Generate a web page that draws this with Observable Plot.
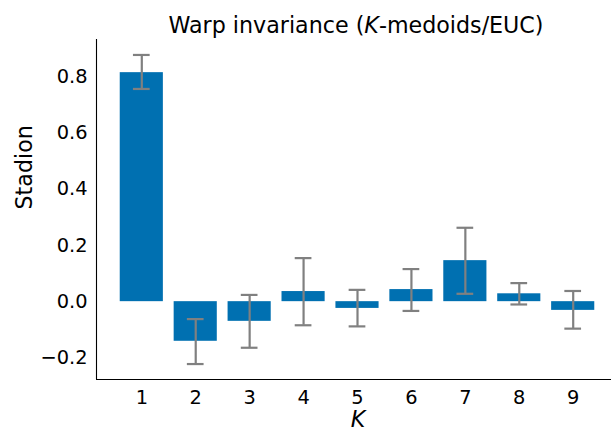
<!DOCTYPE html>
<html>
<head>
<meta charset="utf-8">
<script src="https://cdn.jsdelivr.net/npm/d3@7"></script>
<script src="https://cdn.jsdelivr.net/npm/@observablehq/plot@0.6"></script>
<style>
  html, body { margin: 0; padding: 0; background: #fff; }
  #chart { width: 611px; height: 430px; }
</style>
</head>
<body>
<div id="chart"></div>
<script>
const ks = [1, 2, 3, 4, 5, 6, 7, 8, 9];
const stadion = [0.815, -0.141, -0.070, 0.036, -0.024, 0.043, 0.146, 0.028, -0.031];
const errLow = [0.757, -0.222, -0.164, -0.084, -0.088, -0.033, 0.028, -0.010, -0.096];
const errHigh = [0.878, -0.062, 0.024, 0.155, 0.042, 0.116, 0.263, 0.066, 0.038];
const yTicks = [-0.2, 0.0, 0.2, 0.4, 0.6, 0.8];
const titleText = "Warp invariance (K-medoids/EUC)";
const yLabel = "Stadion";
const xLabel = "K";

const data = ks.map((k, i) => ({k, v: stadion[i], lo: errLow[i], hi: errHigh[i]}));
const barHalf = 0.4;
const capHalf = 0.155;
const font = "DejaVu Sans, sans-serif";

const plot = Plot.plot({
  width: 611,
  height: 430,
  marginLeft: 96,
  marginRight: 0,
  marginTop: 39,
  marginBottom: 51,
  style: {fontFamily: font, fontSize: "19.4px", color: "#000", background: "#fff"},
  x: {domain: [0.16, 9.84], range: [96, 618]},
  y: {domain: [-0.277, 0.933]},
  marks: [
    Plot.rectY(data, {x1: d => d.k - barHalf, x2: d => d.k + barHalf, y1: 0, y2: "v", fill: "#0070b1"}),
    Plot.ruleX(data, {x: "k", y1: "lo", y2: "hi", stroke: "#808080", strokeWidth: 2.2}),
    Plot.ruleY(data, {y: "lo", x1: d => d.k - capHalf, x2: d => d.k + capHalf, stroke: "#808080", strokeWidth: 2.2}),
    Plot.ruleY(data, {y: "hi", x1: d => d.k - capHalf, x2: d => d.k + capHalf, stroke: "#808080", strokeWidth: 2.2}),
    Plot.axisY({ticks: yTicks, tickSize: 0, tickPadding: 9, tickFormat: d3.format(".1f"), label: null, fontSize: "19.4px"}),
    Plot.axisX({ticks: ks, tickSize: 0, tickPadding: 11, tickFormat: d => String(d), label: null, fontSize: "19.4px"}),
    Plot.ruleX([0.16], {y1: -0.277, y2: 0.933, stroke: "#000", strokeWidth: 1.1}),
    Plot.ruleY([-0.277], {x1: 0.16, x2: 9.84, stroke: "#000", strokeWidth: 1.1}),
    Plot.text([titleText], {frameAnchor: "top", lineAnchor: "bottom", dx: 2, dy: -7, fontSize: 22.2, fill: "#000", text: d => d}),
    Plot.text([yLabel], {frameAnchor: "left", rotate: -90, dx: -72, fontSize: 22.2, fill: "#000", text: d => d}),
    Plot.text([xLabel], {frameAnchor: "bottom", lineAnchor: "bottom", dx: 4, dy: 47, fontSize: 22.2, fontStyle: "italic", fill: "#000", text: d => d})
  ]
});

// italicize the K in the title
plot.querySelectorAll("text").forEach(t => {
  if (t.textContent === titleText) {
    const ns = "http://www.w3.org/2000/svg";
    const parts = ["Warp invariance (", "K", "-medoids/EUC)"];
    const target = t.querySelector("tspan") || t;
    while (target.firstChild) target.removeChild(target.firstChild);
    parts.forEach((p, i) => {
      const ts = document.createElementNS(ns, "tspan");
      ts.textContent = p;
      if (i === 1) ts.setAttribute("font-style", "italic");
      target.appendChild(ts);
    });
  }
});

document.getElementById("chart").appendChild(plot);
</script>
</body>
</html>
